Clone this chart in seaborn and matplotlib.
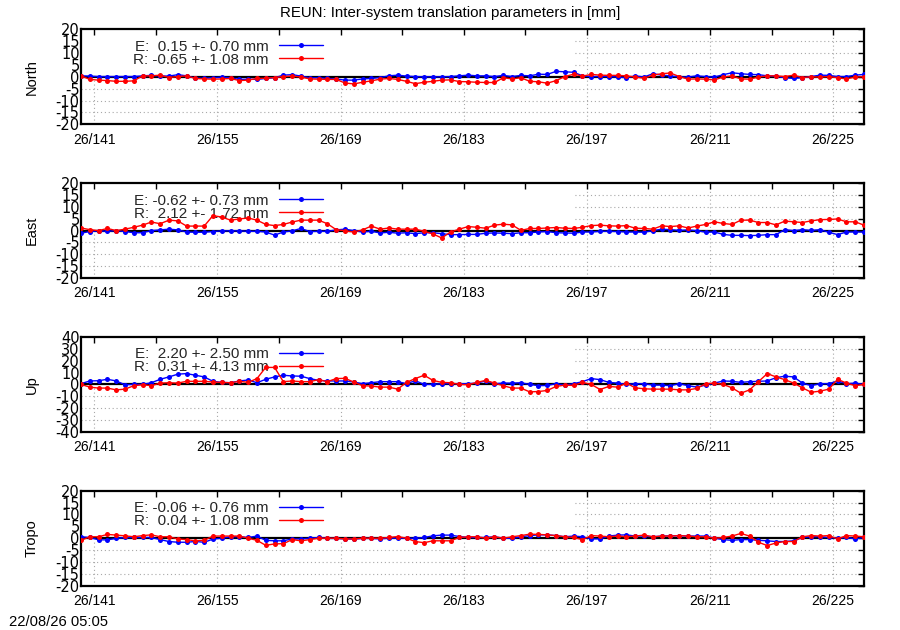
import numpy as np
import pandas as pd
import matplotlib
matplotlib.use('Agg')
import matplotlib.pyplot as plt
import seaborn as sns
from matplotlib.patches import Rectangle

# ---------------- data ----------------
# epochs: day of year 2026 (mid-day), 139.5 ... 228.5
days = np.arange(139, 229) + 0.5

north_E = [0.4, 0.3, 0.1, 0.1, 0.1, 0.1, 0.1, 0.4, 0.6, 0.3, 0.3, 0.9, 0.4, -0.6, -0.6, -0.4, -0.1, -0.4,
           -1.1, -1.0, -1.1, -0.7, -0.4, 0.7, 0.9, 0.3, -0.4, -0.4, -0.7, -0.9, -1.4, -1.4, -0.9, -0.7,
           -0.3, 0.4, 0.7, 0.3, 0.1, 0.0, 0.0, 0.0, 0.1, 0.4, 0.7,
           0.4, 0.4, 0.1, 0.6, 0.1, 0.6, 0.4, 1.1, 1.0, 2.3, 2.1, 1.9, 0.4, 0.1, 0.1, 0.1, -0.1, -0.4,
           0.4, -0.1, 1.3, 0.7, 0.4, -0.1, -0.1, 0.4, 0.1, -0.1, 0.9, 1.7, 1.3, 1.0, 0.9, 0.4, 0.3,
           -0.4, -0.7, -0.4, 0.1, 0.7, 0.6, 0.1, 0.1, 0.7, 1.0]
north_R = [0.4, -1.1, -1.4, -1.6, -1.9, -1.9, -1.7, 0.4, 0.4, 0.7, -0.3, 0.1, 0.4, -0.7, -0.9, -1.0,
           -0.9, -0.7, -1.6, -1.4, -0.7, -0.6, -0.3, 0.1, 0.3, -0.1, -0.9, -1.0, -1.1, -1.1, -2.6, -3.0,
           -2.3, -1.7, -1.0, -0.7, -1.1, -1.9, -2.9, -2.3, -1.9, -1.4, -1.3, -2.0, -2.1,
           -2.3, -2.4, -2.4, -0.4, -0.9, -0.4, -1.9, -2.1, -2.7, -1.6, 0.1, 1.1, 0.3, 1.0, 0.7, 0.6,
           0.6, 0.4, -0.1, -0.6, 0.7, 1.3, 1.6, 0.1, -1.0, -0.9, -1.0, -1.3, -0.1, 0.4, -0.9, -1.0,
           -0.1, 0.4, 0.4, 0.1, 0.7, -0.3, 0.0, -0.1, 0.1, -0.4, -0.9, -0.1, 0.1]

east_E = [-1.1, -0.4, -0.1, -0.3, 0.0, -0.4, -0.9, -0.9, 0.0, 0.3, 0.6, 0.3, -0.6, -0.7, -0.7, -0.4,
          -0.1, -0.1, -0.1, -0.3, -0.3, -0.6, -1.9, -0.6, -0.1, 0.9, -0.4, -0.3, -0.3, 0.3, 0.6, 0.0,
          -0.6, -0.3, -1.0, -0.7, -1.1, -0.9, -1.3, -0.9, -0.9, -1.3, -1.7, -1.7, -1.6,
          -1.6, -1.1, -1.0, -1.1, -1.3, -0.9, -0.9, -0.6, -0.4, -0.9, -1.0, -1.1, -0.6, -0.6, -0.3,
          -0.3, -0.4, -0.6, -0.6, -0.7, 0.0, 0.6, 0.4, 0.1, 0.3, 0.0, -0.7, -0.6, -1.6, -2.0, -2.0,
          -2.1, -2.0, -1.7, -1.7, 0.4, 0.0, 0.4, 0.1, 0.4, -0.7, -1.7, -0.6, -0.6, -0.6]
east_R = [1.1, 0.4, 0.0, 0.9, 0.0, 0.6, 1.4, 2.3, 3.6, 2.9, 4.4, 4.1, 1.9, 1.9, 1.9, 6.3, 5.7, 4.4,
          4.9, 5.3, 4.4, 2.6, 2.1, 2.6, 3.6, 4.4, 4.4, 4.4, 2.9, 0.4, -0.1, -0.6, 0.3, 1.9, 0.6, 1.1,
          0.6, 0.6, 0.6, -0.3, -1.4, -3.1, -0.6, 0.6, 1.7,
          1.4, 1.0, 2.3, 2.7, 2.4, 0.1, 0.9, 0.9, 1.1, 1.3, 1.0, 0.9, 1.4, 2.1, 2.3, 2.0, 1.9, 2.1,
          1.0, 0.9, 0.6, 2.0, 1.7, 2.0, 1.1, 1.9, 2.6, 3.7, 3.0, 2.6, 4.4, 4.4, 3.4, 3.4, 2.4, 4.0,
          3.7, 3.4, 4.1, 4.6, 4.7, 4.9, 3.7, 3.7, 2.3]

up_E = [0.6, 2.9, 3.1, 4.3, 2.9, -0.3, 0.0, 0.0, 1.4, 4.3, 6.3, 8.6, 9.1, 7.7, 6.3, 2.6, 1.7, 1.4,
        2.9, 3.7, 1.4, 4.3, 6.3, 7.7, 7.1, 6.9, 4.9, 3.4, 2.9, 2.9, 2.9, 2.0, 0.6, 1.4, 2.3, 2.3, 2.3,
        0.6, 3.1, 0.0, 0.0, 0.6, 0.6, 0.6, 0.6,
        1.1, 2.9, 0.6, 1.1, 1.1, 1.4, 0.0, -1.1, -0.9, 0.6, -0.6, 0.6, 2.3, 4.9, 4.0, 1.7, 1.1, 0.0,
        0.6, 0.6, -0.6, -0.6, -1.1, 0.6, -1.1, -2.3, -0.6, 1.1, 2.9, 2.6, 1.7, 2.3, 2.6, 2.9, 5.7,
        6.9, 6.3, 1.1, -1.1, 0.6, 0.6, 2.9, 0.6, 1.1, 0.0]
up_R = [0.0, -2.3, -3.1, -3.1, -4.6, -4.0, -1.1, -0.3, -1.1, 1.1, 1.4, 1.1, 2.6, 2.6, 2.6, 2.0, 1.7,
        1.4, 2.6, 1.7, 4.9, 14.3, 14.3, 2.3, 2.9, 2.3, 2.3, 4.0, 2.3, 4.9, 5.1, 2.0, -1.1, -1.4, -2.3,
        -2.3, -4.0, 1.7, 4.9, 7.7, 3.4, 1.7, 1.4, 0.0, -0.3,
        1.7, 3.4, 1.1, -1.1, -3.1, -3.1, -6.3, -6.0, -5.1, -1.7, -0.6, -0.9, 1.7, 0.0, -4.3, -1.7,
        -2.3, 1.1, -2.9, -3.7, -4.0, -4.0, -4.0, -4.6, -4.6, -3.4, 0.6, 1.1, 0.0, -2.9, -7.4, -4.6,
        2.3, 9.1, 6.3, 4.0, 1.1, -2.9, -6.6, -5.7, -4.0, 4.3, 1.1, -1.1, 0.0]

tropo_E = [0.6, 0.3, -0.7, -0.7, -0.1, 0.3, 0.3, 0.3, 0.3, -0.6, -1.4, -1.7, -1.7, -1.4, -1.7, -0.4,
           0.0, 0.6, 0.6, 0.3, 0.9, -0.9, -1.1, -1.1, -0.3, -0.3, 0.0, 0.3, -0.1, -0.1, -0.3, -0.4,
           -0.1, -0.1, -0.3, 0.0, 0.0, 0.0, 0.0, 0.3, 1.0, 1.3, 1.3, 0.7, 0.3,
           0.3, 0.3, 0.6, 0.0, -0.1, 0.6, 1.1, 1.4, 1.4, 1.1, 0.6, 0.9, 0.6, -0.3, -0.3, 0.9, 1.3,
           1.4, 0.9, 0.9, 0.6, 0.9, 1.0, 1.0, 0.9, 0.9, 0.9, 0.0, -0.6, -0.9, -0.6, -0.6, -0.9, -1.1,
           -1.4, -1.4, -1.1, 0.3, 0.6, 0.6, 0.3, 0.0, 0.3, -0.3, 0.3]
tropo_R = [-0.9, 0.6, 0.6, 1.6, 1.3, 1.0, 0.6, 1.1, 1.4, 0.6, 0.6, -0.3, -0.6, -1.1, -0.9, 0.9, 0.9,
           0.9, 0.9, 0.0, -0.9, -3.0, -2.4, -2.3, -0.6, -1.1, -0.6, 0.0, 0.0, 0.0, -0.3, -0.3, 0.0,
           0.0, 0.0, 0.3, 0.7, 0.0, -1.4, -1.9, -1.1, -1.1, -1.1, 0.3, 0.6,
           0.6, 0.0, 0.6, 0.0, 0.6, 1.1, 1.7, 1.6, 1.4, 1.1, 0.6, 0.3, -0.6, 1.1, 0.9, 0.6, 0.9, 0.6,
           0.9, 1.3, 0.6, 0.9, 0.9, 1.1, 0.9, 0.6, 0.6, 0.0, 0.3, 0.9, 2.0, 0.9, -1.7, -3.1, -2.0,
           -1.4, -1.4, 0.6, 1.1, 0.9, 1.1, -0.3, 1.1, 0.9, 0.6]

panel_names = ['North', 'East', 'Up', 'Tropo']
e_series = [north_E, east_E, up_E, tropo_E]
r_series = [north_R, east_R, up_R, tropo_R]
e_mean = [0.15, -0.62, 2.20, -0.06]
e_std = [0.70, 0.73, 2.50, 0.76]
r_mean = [-0.65, 2.12, 0.31, 0.04]
r_std = [1.08, 1.72, 4.13, 1.08]
y_limits = [20, 20, 40, 20]
y_steps = [5, 5, 10, 5]

xtick_days = [141, 155, 169, 183, 197, 211, 225]
xtick_labels = ['26/141', '26/155', '26/169', '26/183', '26/197', '26/211', '26/225']
minor_days = [148, 162, 176, 190, 204, 218]

title = 'REUN: Inter-system translation parameters in [mm]'
stamp = '22/08/26 05:05'

# ---------------- style ----------------
sns.set_theme(style='white')
plt.rcParams['font.family'] = ['Liberation Sans', 'DejaVu Sans']
plt.rcParams['axes.unicode_minus'] = False

W, H = 900, 630
fig = plt.figure(figsize=(9, 6.3), dpi=100)
fig.patch.set_facecolor('white')

tops = [29.3, 183.1, 336.9, 490.7]
ax_left, ax_w, ax_h = 81, 783, 95
grid_kw = dict(color='#a8a8a8', lw=0.8, ls=(0, (1, 2.5)), zorder=0.3)


def fmt(lbl, m, s):
    return f'{lbl}: {m:5.2f} +- {s:4.2f} mm'


for i, name in enumerate(panel_names):
    ax = fig.add_axes([ax_left / W, 1 - (tops[i] + ax_h) / H, ax_w / W, ax_h / H])
    ax.set_facecolor('white')
    lim = y_limits[i]
    step = y_steps[i]
    ax.set_xlim(139.5, 228.5)
    ax.set_ylim(-lim, lim)

    # grid
    for d in xtick_days:
        ax.axvline(d, **grid_kw)
    yt = np.arange(-lim, lim + 1, step)
    for v in yt:
        if v != 0 and abs(v) != lim:
            ax.axhline(v, **grid_kw)
    # opaque key area
    ax.add_patch(Rectangle((0, 0.46), 0.628, 0.54, transform=ax.transAxes,
                           facecolor='white', edgecolor='none', zorder=0.4))
    ax.axhline(0, color='black', lw=1.6, zorder=1.5)

    sns.lineplot(x=days, y=e_series[i], color='#0000ff', marker='o', markersize=3.6,
                 markeredgewidth=0, lw=1.0, ax=ax, zorder=3,
                 label=fmt('E', e_mean[i], e_std[i]))
    sns.lineplot(x=days, y=r_series[i], color='#ff0000', marker='o', markersize=3.6,
                 markeredgewidth=0, lw=1.0, ax=ax, zorder=3.1,
                 label=fmt('R', r_mean[i], r_std[i]))

    h, l = ax.get_legend_handles_labels()
    leg = ax.legend(h, l, loc='upper right', bbox_to_anchor=(0.309, 0.89), frameon=False,
                    markerfirst=False, handlelength=2.9, handletextpad=0.65,
                    labelspacing=-0.06, borderpad=0, borderaxespad=0, fontsize=11)
    leg.set_zorder(2)

    ax.set_xticks(xtick_days)
    ax.set_xticklabels(xtick_labels)
    ax.set_xticks(minor_days, minor=True)
    ax.set_yticks(yt)
    ax.set_yticklabels([str(int(v)) for v in yt], fontfamily=['DejaVu Sans'], fontsize=10.5)
    ax.tick_params(axis='both', which='both', direction='in', length=4.5, width=1,
                   color='black', top=True, right=True, labelcolor='black')
    ax.tick_params(axis='x', which='major', pad=6, labelsize=10)
    ax.tick_params(axis='y', which='major', pad=1)
    for sp in ax.spines.values():
        sp.set_visible(True)
        sp.set_color('black')
        sp.set_linewidth(1.6)
    ax.set_xlabel('')
    ax.set_ylabel('')
    ax.text(-(ax_left - 32) / ax_w, 0.5, name, rotation=90, ha='center', va='center',
            transform=ax.transAxes, fontsize=10.5, color='black')

fig.text(0.5, 1 - 13 / H, title, ha='center', va='center', fontsize=10.8, color='black')
fig.text(9 / W, 1 - 622 / H, stamp, ha='left', va='center', fontsize=10.6, color='black')

fig.savefig('out.png', dpi=100, facecolor='white')
